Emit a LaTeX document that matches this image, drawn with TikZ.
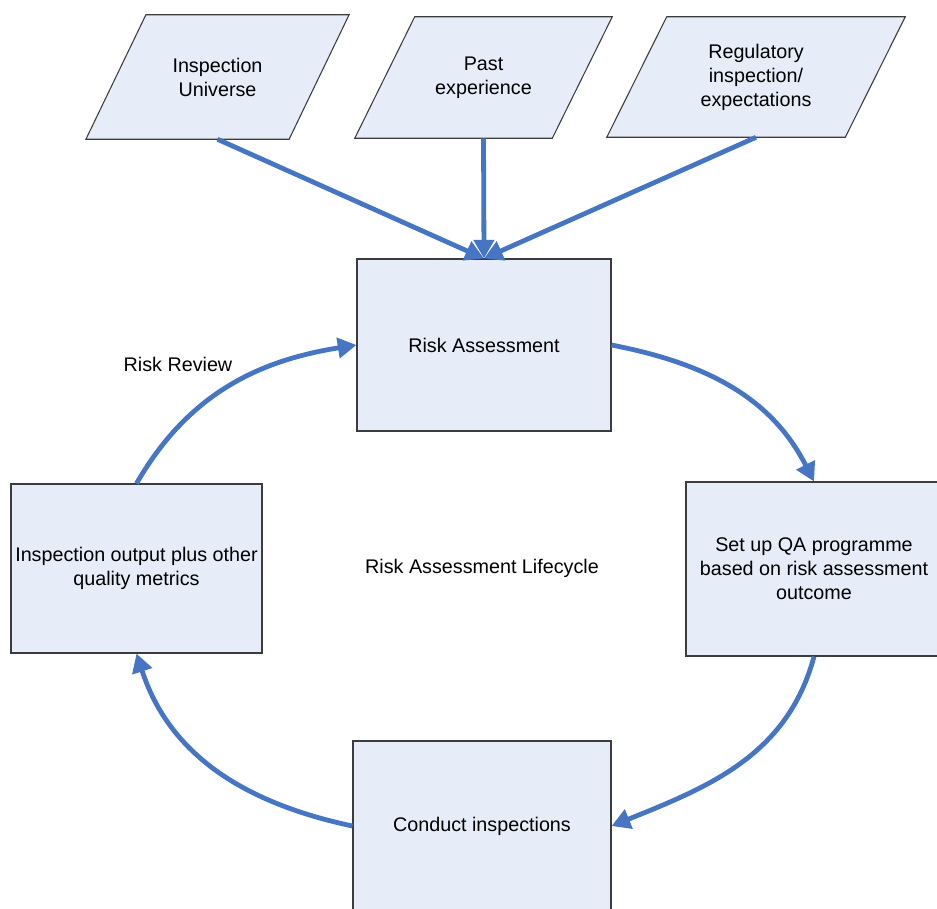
\documentclass[tikz,border=0pt]{standalone}
\usepackage{fontspec}
\setmainfont{Liberation Sans}
\usetikzlibrary{arrows.meta,backgrounds}
\definecolor{boxfill}{RGB}{230,237,248}
\definecolor{boxline}{RGB}{60,60,60}
\definecolor{flowblue}{RGB}{70,117,196}

\begin{document}
\begin{tikzpicture}[x=0.75pt, y=0.75pt,
 font=\fontsize{14.8}{18}\selectfont,
 box/.style={draw=boxline, line width=0.8pt, fill=boxfill, align=center, inner sep=0pt},
 source/.style={align=center, inner sep=0pt},
 slanted/.style={draw=boxline, line width=0.8pt, fill=boxfill},
 flow/.style={draw=flowblue, line width=3.6pt, -{Triangle[length=14pt,width=15pt]}}]
 \useasboundingbox (0,0) rectangle (937,-908);
 \clip (0,0) rectangle (937,-908);
 % inputs
 \node[source, minimum width=197pt, minimum height=93pt] (iu) at (217.5,-77) {Inspection\\Universe};
 \node[source, minimum width=192.75pt, minimum height=90.75pt] (pe) at (483.5,-77.5) {Past\\experience};
 \node[source, minimum width=223.5pt, minimum height=90pt] (rg) at (756,-77) {Regulatory\\inspection/\\expectations};
 \begin{scope}[on background layer]
  \foreach \n in {iu,pe,rg}
   \draw[slanted] (\n.south west) -- ([xshift=-45pt]\n.south east)
    -- (\n.north east) -- ([xshift=45pt]\n.north west) -- cycle;
 \end{scope}
 % lifecycle
 \node[box, minimum width=190.5pt, minimum height=129pt] (ra) at (484,-345) {Risk Assessment};
 \node[box, minimum width=192pt, minimum height=130.5pt] (qa) at (814,-569)
  {Set up QA programme\\based on risk assessment\\outcome};
 \node[box, minimum width=193.5pt, minimum height=127.5pt] (ci) at (482,-826) {Conduct inspections};
 \node[box, minimum width=188.25pt, minimum height=126.75pt] (out) at (136.5,-568.5)
  {Inspection output plus other\\quality metrics};
 \node (rr) at (178,-364) {Risk Review};
 \node (lc) at (482,-568) {Risk Assessment Lifecycle};
 % connectors
 \draw[flow] (iu.south) -- (ra.north);
 \draw[flow] (pe.south) -- (ra.north);
 \draw[flow] (rg.south) -- (ra.north);
 \draw[flow] (ra.east) to[out=-11, in=117] (qa.north);
 \draw[flow] (qa.south) to[out=-105, in=22] (ci.east);
 \draw[flow] (ci.west) to[out=168, in=-72] (out.south);
 \draw[flow] (out.north) to[out=60, in=189] (ra.west);
\end{tikzpicture}
\end{document}
